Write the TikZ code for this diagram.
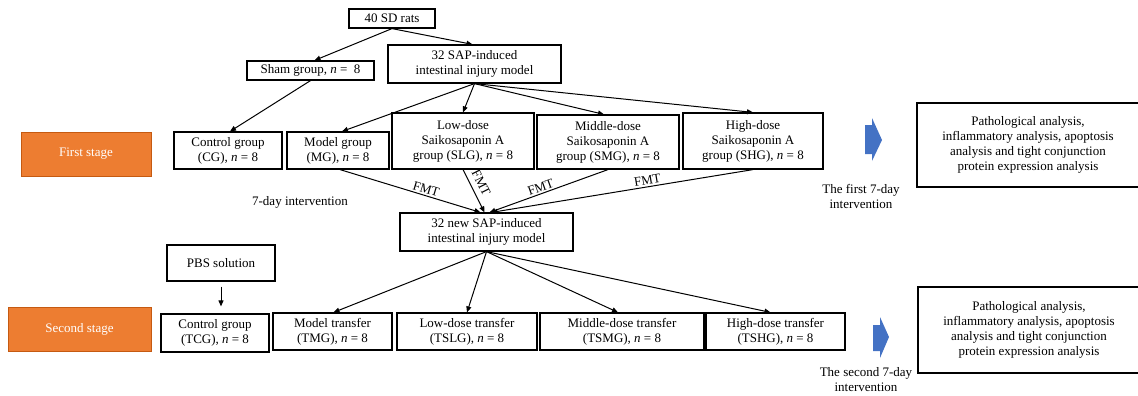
\documentclass[tikz,border=0pt]{standalone}
\usepackage{fontspec}
\setmainfont{Liberation Serif}
\definecolor{stageorange}{RGB}{237,125,49}
\definecolor{stageedge}{RGB}{197,90,17}
\definecolor{blockblue}{RGB}{68,114,196}
\usetikzlibrary{arrows.meta}
\tikzstyle{base}=[x=1pt, y=-1pt, font=\fontsize{13}{15}\selectfont]
\tikzstyle{grp}=[draw=black, line width=1.2pt, align=center, inner sep=0pt]
\tikzstyle{stage}=[draw=stageedge, fill=stageorange, text=white, line width=0.8pt, inner sep=0pt]
\tikzstyle{link}=[line width=1pt, -{Triangle[length=6pt,width=5pt]}]
\tikzstyle{fmt}=[sloped, above, inner sep=1.5pt]

\begin{document}
\begin{tikzpicture}[base]
    \useasboundingbox (0,0) rectangle (1138,396);
        \node [grp, minimum width=86pt, minimum height=19pt] (rats) at (392,18.5) {40 SD rats};
        \node [grp, minimum width=127pt, minimum height=19pt] (sham) at (310.5,70.5) {Sham group, \textit{n} = ~8};
        \node [grp, minimum width=173pt, minimum height=38pt] (sap) at (474.5,64) {32 SAP-induced\\intestinal injury model};
        \node [stage, minimum width=130pt, minimum height=44pt] (first) at (86,154) {First stage};
        \node [grp, minimum width=108pt, minimum height=37pt] (cg) at (228,150.5) {Control group\\(CG), \textit{n} = 8};
        \node [grp, minimum width=102pt, minimum height=37pt] (mg) at (338,150.5) {Model group\\(MG), \textit{n} = 8};
        \node [grp, minimum width=142pt, minimum height=56pt] (slg) at (463,141) {Low-dose\\Saikosaponin A\\group (SLG), \textit{n} = 8};
        \node [grp, minimum width=142pt, minimum height=54pt] (smg) at (608,142) {Middle-dose\\Saikosaponin A\\group (SMG), \textit{n} = 8};
        \node [grp, minimum width=140pt, minimum height=56pt] (shg) at (753,141) {High-dose\\Saikosaponin A\\group (SHG), \textit{n} = 8};
        \node [grp, minimum width=222pt, minimum height=84pt] (anaone) at (1028,145) {Pathological analysis,\\inflammatory analysis, apoptosis\\analysis and tight conjunction\\protein expression analysis};
        \node [align=center] (firsttxt) at (861,196) {The first 7-day\\intervention};
        \node (daytxt) at (300,202) {7-day intervention};
        \node [grp, minimum width=173pt, minimum height=38pt] (new) at (486.5,232) {32 new SAP-induced\\intestinal injury model};
        \node [grp, minimum width=108pt, minimum height=36pt] (pbs) at (221,263) {PBS solution};
        \node [stage, minimum width=143pt, minimum height=44pt] (second) at (79.5,329) {Second stage};
        \node [grp, minimum width=108pt, minimum height=38pt] (tcg) at (215,333) {Control group\\(TCG), \textit{n} = 8};
        \node [grp, minimum width=119pt, minimum height=37pt] (tmg) at (332.5,331.5) {Model transfer\\(TMG), \textit{n} = 8};
        \node [grp, minimum width=140pt, minimum height=37pt] (tslg) at (467,331.5) {Low-dose transfer\\(TSLG), \textit{n} = 8};
        \node [grp, minimum width=164pt, minimum height=37pt] (tsmg) at (622,331.5) {Middle-dose transfer\\(TSMG), \textit{n} = 8};
        \node [grp, minimum width=139pt, minimum height=37pt] (tshg) at (775.5,331.5) {High-dose transfer\\(TSHG), \textit{n} = 8};
        \node [grp, minimum width=222pt, minimum height=86pt] (anatwo) at (1029,330) {Pathological analysis,\\inflammatory analysis, apoptosis\\analysis and tight conjunction\\protein expression analysis};
        \node [align=center] (secondtxt) at (866,380) {The second 7-day\\intervention};
        \fill [blockblue] (865,125) -- (872,125) -- (872,118) -- (882,140) -- (872,161) -- (872,154) -- (865,154) -- cycle;
        \fill [blockblue] (873,325) -- (880,325) -- (880,317) -- (889,337) -- (880,358) -- (880,351) -- (873,351) -- cycle;
        \draw [link] (rats.south) -- ([xshift=4pt]sham.north);
        \draw [link] (rats.south) -- ([xshift=-2pt]sap.north);
        \draw [link] (sham.south) -- ([xshift=2pt]cg.north);
        \draw [link] (sap.south) -- ([xshift=4pt]mg.north);
        \draw [link] (sap.south) -- (slg.north);
        \draw [link] (sap.south) -- ([xshift=-4pt]smg.north);
        \draw [link] (sap.south) -- (shg.north);
        \draw [link] ([xshift=2pt]mg.south) -- node [fmt, pos=0.6] {FMT} ([xshift=-6pt]new.north);
        \draw [link] (slg.south) -- node [fmt, pos=0.42, above=4pt] {FMT} ([xshift=-2pt]new.north);
        \draw [link] (smg.south) -- node [fmt, pos=0.55] {FMT} ([xshift=3pt]new.north);
        \draw [link] (shg.south) -- node [fmt, pos=0.4] {FMT} ([xshift=5pt]new.north);
        \draw [link] (new.south) -- ([xshift=1pt]tmg.north);
        \draw [link] (new.south) -- (tslg.north);
        \draw [link] (new.south) -- ([xshift=-4pt]tsmg.north);
        \draw [link] (new.south) -- ([xshift=-5pt]tshg.north);
        \draw [link, shorten <=5pt, shorten >=7pt] (pbs.south) -- (pbs.south |- tcg.north);
    \end{tikzpicture}
\end{document}
